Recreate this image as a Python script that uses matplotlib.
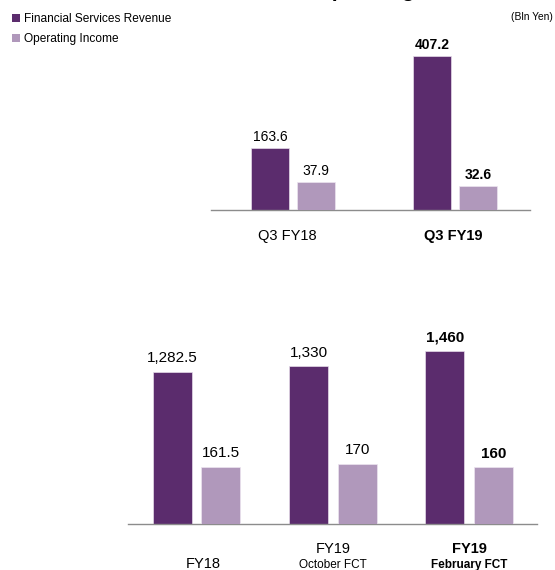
import matplotlib
matplotlib.use("Agg")
import matplotlib.pyplot as plt
from matplotlib.patches import Patch

plt.rcParams['font.family'] = ['Liberation Sans', 'DejaVu Sans']

# quarterly figures
q_labels = ["Q3 FY18", "Q3 FY19"]
q_revenue = [163.6, 407.2]
q_income = [37.9, 32.6]
q_bold = [False, True]

# full-year figures
fy_labels = ["FY18", "FY19", "FY19"]
fy_sublabels = ["", "October FCT", "February FCT"]
fy_revenue = [1282.5, 1330, 1460]
fy_income = [161.5, 170, 160]
fy_bold = [False, False, True]

rev_color = "#5b2c6d"
inc_color = "#b098bb"
line_color = "#8c8c8c"

W, H = 555, 570
fig = plt.figure(figsize=(W / 100, H / 100), dpi=100)


def px_axes(left, right, base, top):
    return fig.add_axes([left / W, 1 - base / H, (right - left) / W, (base - top) / H])


def clean(ax):
    for s in ax.spines.values():
        s.set_visible(False)
    ax.set_xticks([])
    ax.set_yticks([])


def fmt(v):
    if float(v).is_integer():
        return f"{int(v):,}"
    return f"{v:,.1f}"


def draw_panel(ax, labels, revenue, income, bold, rev_max, inc_max, width, off,
               fs_val, val_pad, xlim):
    ax2 = ax.twinx()
    for a in (ax, ax2):
        clean(a)
        a.set_xlim(*xlim)
    ax.set_ylim(0, rev_max)
    ax2.set_ylim(0, inc_max)
    ax.spines['bottom'].set_visible(True)
    ax.spines['bottom'].set_color(line_color)
    ax.spines['bottom'].set_linewidth(1.0)

    xs = list(range(len(labels)))
    xr = [x - off for x in xs]
    xi = [x + off for x in xs]
    ax.bar(xr, revenue, width=width, color=rev_color, edgecolor="#e6dcea", linewidth=0.5)
    ax2.bar(xi, income, width=width, color=inc_color, edgecolor="#ece4ef", linewidth=0.5)

    for i in xs:
        w = "bold" if bold[i] else "normal"
        ax.annotate(fmt(revenue[i]), (xr[i], revenue[i]), xytext=(0, val_pad),
                    textcoords="offset points", ha="center", va="baseline",
                    fontsize=fs_val, fontweight=w, annotation_clip=False)
        ax2.annotate(fmt(income[i]), (xi[i], income[i]), xytext=(0, val_pad),
                     textcoords="offset points", ha="center", va="baseline",
                     fontsize=fs_val, fontweight=w, annotation_clip=False)
    return xs


# top panel: Q3 comparison
ax_q = px_axes(211, 530, 210, 40)
xs = draw_panel(ax_q, q_labels, q_revenue, q_income, q_bold, 449, 229.7,
                0.235, 0.142, 10, 5, (-0.506, 1.463))
q_dx = [-4.3, -1.4]
for i in xs:
    ax_q.annotate(q_labels[i], (i, 0), xytext=(q_dx[i], -18.7), textcoords="offset points",
                  xycoords=("data", "axes fraction"), ha="center", va="center",
                  fontsize=10.5, fontweight="bold" if q_bold[i] else "normal",
                  annotation_clip=False)

# bottom panel: full year and forecasts
ax_f = px_axes(128, 537, 524, 330)
xs = draw_panel(ax_f, fy_labels, fy_revenue, fy_income, fy_bold, 1636, 548,
                0.286, 0.178, 11, 7, (-0.503, 2.498))
for i in xs:
    w = "bold" if fy_bold[i] else "normal"
    if fy_sublabels[i]:
        ax_f.annotate(fy_labels[i], (i, 0), xytext=(0, -18), textcoords="offset points",
                      xycoords=("data", "axes fraction"), ha="center", va="center",
                      fontsize=10.5, fontweight=w, annotation_clip=False)
        ax_f.annotate(fy_sublabels[i], (i, 0), xytext=(0, -29.5), textcoords="offset points",
                      xycoords=("data", "axes fraction"), ha="center", va="center",
                      fontsize=8.5, fontweight=w, annotation_clip=False)
    else:
        ax_f.annotate(fy_labels[i], (i, 0), xytext=(4.7, -28.8), textcoords="offset points",
                      xycoords=("data", "axes fraction"), ha="center", va="center",
                      fontsize=10.5, fontweight=w, annotation_clip=False)

# legend and headings
handles = [Patch(facecolor=rev_color, label="Financial Services Revenue"),
           Patch(facecolor=inc_color, label="Operating Income")]
fig.legend(handles=handles, loc="upper left", bbox_to_anchor=(12 / W, 1 - 13 / H),
           frameon=False, fontsize=8.6, handlelength=0.67, handleheight=0.67,
           handletextpad=0.35, labelspacing=0.7, borderpad=0, borderaxespad=0)

# heading sits mostly above the top edge, only its descenders show
fig.text(179 / W, 1 + 3.2 / H, "Revenue and Operating Income", ha="left",
         va="baseline", fontsize=15.1, fontweight="bold")
fig.text(553 / W, 1 - 17 / H, "(Bln Yen)", ha="right", va="center", fontsize=7.4)

fig.savefig("out.png", dpi=100)
